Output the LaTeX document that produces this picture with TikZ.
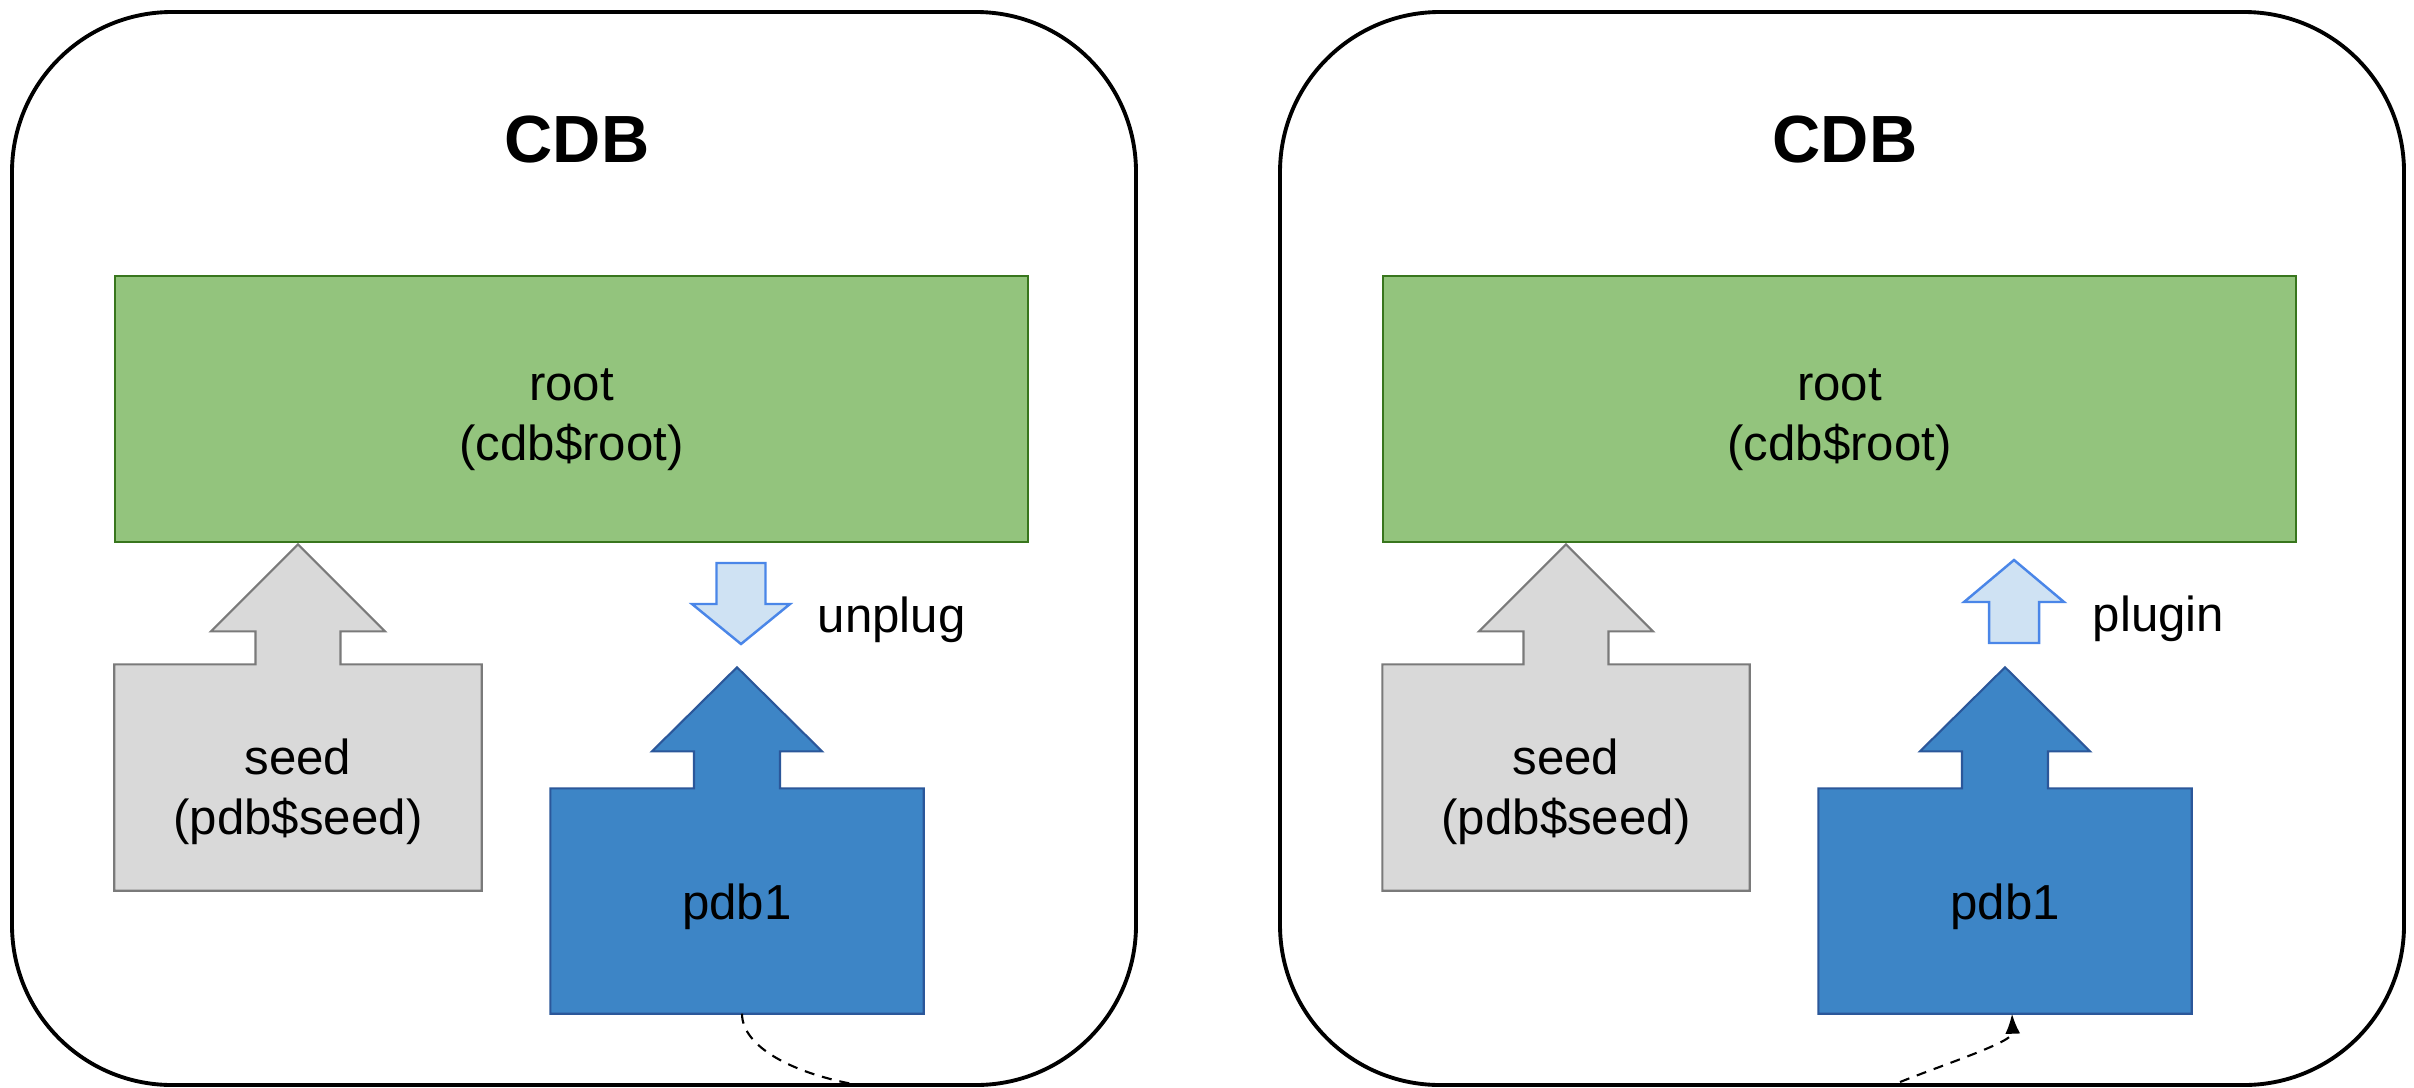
\documentclass[tikz,border=0pt]{standalone}
\usepackage{fontspec}
\setmainfont{Liberation Sans}
\usetikzlibrary{arrows.meta,backgrounds}

\definecolor{rootgreen}{HTML}{93C47D}
\definecolor{rootedge}{HTML}{38761D}
\definecolor{seedgray}{HTML}{D9D9D9}
\definecolor{seededge}{HTML}{7A7A7A}
\definecolor{pdbblue}{HTML}{3D85C6}
\definecolor{pdbedge}{HTML}{2B579A}
\definecolor{movefill}{HTML}{CFE2F3}
\definecolor{moveedge}{HTML}{4A86E8}

\tikzset{
  panel/.style={draw, line width=1.1pt, rounded corners=1.6cm,
    minimum width=11.24cm, minimum height=10.73cm},
  title/.style={font=\fontsize{19}{23}\selectfont\bfseries},
  rootbox/.style={draw=rootedge, fill=rootgreen, line width=0.8pt,
    minimum width=9.13cm, minimum height=2.66cm},
  seedbox/.style={minimum width=3.66cm, minimum height=2.25cm},
  seedshape/.style={draw=seededge, fill=seedgray, line width=0.6pt},
  pdbbox/.style={minimum width=3.72cm, minimum height=2.24cm},
  pdbshape/.style={draw=pdbedge, fill=pdbblue, line width=0.6pt},
  boxtext/.style={align=center, font=\fontsize{14}{17}\selectfont},
  movearrow/.style={draw=moveedge, fill=movefill, line width=0.7pt},
  movelabel/.style={anchor=base west, inner sep=0pt, font=\fontsize{14}{17}\selectfont},
  transfer/.style={dash pattern=on 1mm off 0.8mm, line width=0.6pt}
}

\begin{document}
\begin{tikzpicture}
  \useasboundingbox (0,0) rectangle (24.14,10.87);

  % the two CDB containers, side by side
  \foreach \s/\dx in {L/0, R/12.68} {
    \begin{scope}[xshift=\dx cm]
      \node[panel] (cdb\s) at (5.74,5.385) {};
      \node[title] (title\s) at (5.77,9.47) {CDB};
      \node[rootbox] (root\s) at (5.715,6.78) {};
      \node[seedbox] (seed\s) at (2.98,3.095) {};
      \node[pdbbox] (pdb\s) at (7.37,1.86) {};

      \node[boxtext] (rootname\s) at ([yshift=-1.1mm]root\s.center) {root\\(cdb\$root)};
      \node[boxtext] (seedname\s) at ([yshift=-1.4mm]seed\s.center) {seed\\(pdb\$seed)};
      \node[boxtext] (pdbname\s) at ([yshift=-0.6mm]pdb\s.center) {pdb1};

      \begin{scope}[on background layer]
        % seed, with its arrow up into root
        \draw[seedshape] (seed\s.south west) -- (seed\s.north west)
          -- ([xshift=-4.25mm]seed\s.north) |- ([xshift=-8.7mm,yshift=3.3mm]seed\s.north)
          -- ([yshift=12mm]seed\s.north)
          -- ([xshift=8.7mm,yshift=3.3mm]seed\s.north) -| ([xshift=4.25mm]seed\s.north)
          -- (seed\s.north east) -- (seed\s.south east) -- cycle;
        % pdb1, with its arrow
        \draw[pdbshape] (pdb\s.south west) -- (pdb\s.north west)
          -- ([xshift=-4.3mm]pdb\s.north) |- ([xshift=-8.5mm,yshift=3.7mm]pdb\s.north)
          -- ([yshift=12.1mm]pdb\s.north)
          -- ([xshift=8.5mm,yshift=3.7mm]pdb\s.north) -| ([xshift=4.3mm]pdb\s.north)
          -- (pdb\s.north east) -- (pdb\s.south east) -- cycle;
      \end{scope}
    \end{scope}
  }

  % unplug (left) and plugin (right)
  \coordinate (unplugtip) at (7.41,4.43);
  \draw[movearrow] (unplugtip) -- ++(0.49,0.40) -- ++(-0.245,0) -- ++(0,0.41)
    -- ++(-0.49,0) -- ++(0,-0.41) -- ++(-0.245,0) -- cycle;
  \node[movelabel] (unplug) at (8.17,4.55) {unplug};

  \coordinate (plugintip) at (20.14,5.27);
  \draw[movearrow] (plugintip) -- ++(0.50,-0.42) -- ++(-0.25,0) -- ++(0,-0.41)
    -- ++(-0.50,0) -- ++(0,0.41) -- ++(-0.25,0) -- cycle;
  \node[movelabel] (plugin) at (20.92,4.56) {plugin};

  % pdb1 leaves the left CDB and comes into the right one
  \coordinate (outL) at (8.58,0.02);
  \coordinate (inR) at (19.00,0.05);
  \draw[transfer] ([xshift=0.5mm]pdbL.south) .. controls +(0,-0.32) and (7.90,0.14) .. (outL);
  \draw[transfer, -{Latex[length=2mm,width=1.5mm]}] (inR)
    .. controls (19.45,0.23) and (20.13,0.45) .. ([xshift=0.7mm]pdbR.south);
\end{tikzpicture}
\end{document}
